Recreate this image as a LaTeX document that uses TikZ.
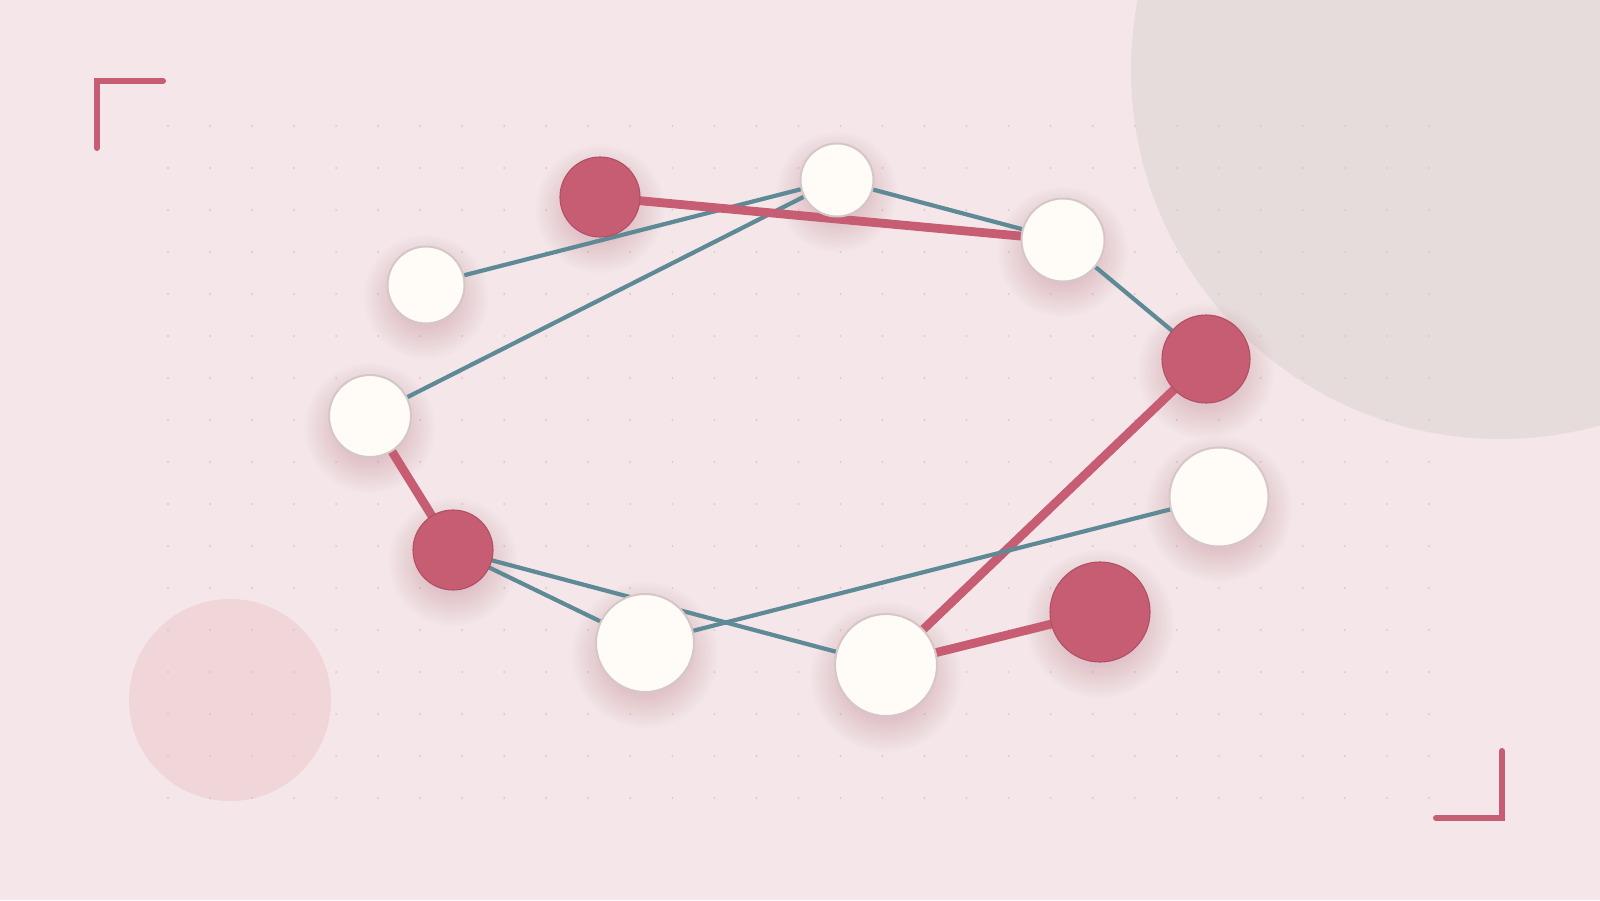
\documentclass[tikz,border=0pt]{standalone}
\usetikzlibrary{calc}
\definecolor{bgc}{HTML}{F5E6E9}
\definecolor{greyc}{HTML}{E6DCDC}
\definecolor{pinkc}{HTML}{F0D5D9}
\definecolor{redc}{HTML}{C65D73}
\definecolor{redborder}{HTML}{B24F65}
\definecolor{tealc}{HTML}{5E8A96}
\definecolor{nodewhite}{HTML}{FFFCF8}
\definecolor{whiteborder}{HTML}{D5C7C7}
\definecolor{dotc}{HTML}{DCC7CC}
\definecolor{shadowc}{HTML}{B08490}
\pgfdeclarelayer{bglayer}
\pgfdeclarelayer{shadowlayer}
\pgfdeclarelayer{edgelayer}
\pgfsetlayers{bglayer,shadowlayer,edgelayer,main}
\tikzset{
  rednode/.style={circle, fill=redc, draw=redborder, line width=1.1pt, inner sep=0pt, minimum size=#1},
  whitenode/.style={circle, fill=nodewhite, draw=whiteborder, line width=2pt, inner sep=0pt, minimum size=#1},
  tealedge/.style={draw=tealc, line width=4.2pt},
  rededge/.style={draw=redc, line width=8.8pt},
  bracket/.style={draw=redc, line width=6pt, line cap=round, line join=miter},
}
\begin{document}
\begin{tikzpicture}[x=1pt, y=-1pt]
\useasboundingbox (0,0) rectangle (1600,900);
\begin{pgfonlayer}{bglayer}
  \fill[bgc] (0,0) rectangle (1600,900);
  \fill[greyc] (1500,70) circle (369pt);
  \fill[pinkc] (230,700) circle (101pt);
  \foreach \i in {0,...,30}{
    \foreach \j in {0,...,16}{
      \fill[dotc] ({168+42.03*\i},{126+42*\j}) circle (1.1pt);
    }
  }
  \draw[bracket] (97,148) -- (97,81) -- (163,81);
  \draw[bracket] (1502,751) -- (1502,818) -- (1436,818);
\end{pgfonlayer}

% nodes
\node[rednode=80pt]   (A) at (600,197) {};
\node[whitenode=73pt] (B) at (837,180) {};
\node[whitenode=83pt] (C) at (1063,240) {};
\node[rednode=88pt]   (D) at (1206,359) {};
\node[whitenode=77pt] (E) at (426,285) {};
\node[whitenode=82pt] (F) at (370,416) {};
\node[rednode=80pt]   (G) at (453,550) {};
\node[whitenode=98pt] (H) at (645,643) {};
\node[whitenode=102pt] (I) at (886,665) {};
\node[rednode=100pt]  (J) at (1100,612) {};
\node[whitenode=99pt] (K) at (1219,497) {};

% soft shadows
\begin{pgfonlayer}{shadowlayer}
  \foreach \n/\r in {A/40,B/36,C/41,D/44,E/38,F/41,G/40,H/49,I/51,J/50,K/49}{
    \foreach \k in {0,...,17}{
      \fill[shadowc, opacity=0.017] ($(\n)+(0,12)$) circle ({\r-8+1.9*\k pt});
    }
  }
\end{pgfonlayer}

% edges
\begin{pgfonlayer}{edgelayer}
  \draw[tealedge] (E.center) -- (B.center);
  \draw[tealedge] (F.center) -- (B.center);
  \draw[tealedge] (B.center) -- (C.center);
  \draw[rededge]  (A.center) -- (C.center);
  \draw[tealedge] (C.center) -- (D.center);
  \draw[rededge]  (F.center) -- (G.center);
  \draw[tealedge] (G.center) -- (I.center);
  \draw[tealedge] (G.center) -- (H.center);
  \draw[rededge]  (D.center) -- (I.center);
  \draw[tealedge] (H.center) -- (K.center);
  \draw[rededge]  (I.center) -- (J.center);
\end{pgfonlayer}
\end{tikzpicture}
\end{document}
